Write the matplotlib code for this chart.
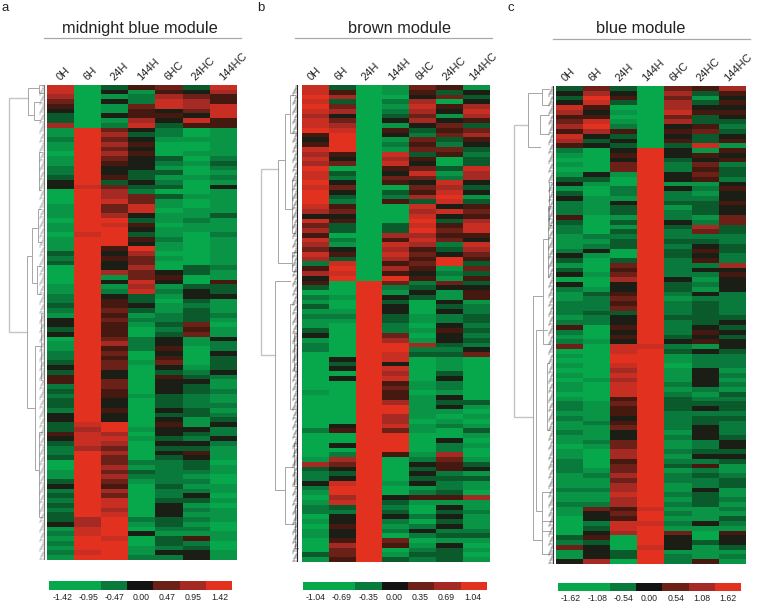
import numpy as np
import matplotlib
matplotlib.use("Agg")
import matplotlib.pyplot as plt
from matplotlib.colors import ListedColormap

plt.rcParams['font.family'] = ['Liberation Sans', 'DejaVu Sans']

W, H = 760, 604

conditions = ['0H', '6H', '24H', '144H', '6HC', '24HC', '144HC']

# 0 = full green, 4 = black, 9 = full red; one 7-digit token per row
midnight_rows = """
8035638 8041547 7012765 6042875 5016878 4015468 3045548 3017485 7028355
1964201 1973201 2964111 1975001 1964001 0975011 1964302 1954213 2944102
2943301 3953112 4934201 4863304 0972001 0976311
0986101 1968101 1968011 1974113 0993121 1985011 1994111 0893102 1995201 1994101
1959101 3947001 2956101 3946001 0947032 0976431 0916501 0948405 1917133 1928243
2943144 2953031 3954121 2963131 1951232 4962231 4951360 3950251 4950361 0962414
1972412 1952502 2960404 2950503 3961603 4960413 3940324 5940532 5960441 2960431
3950432 2951321 3940321 3940322 2950431 4940332 4940413 3890514 3791442 5870432
4881324 3870442 2760331 2970451 3960341 0962230 0971231 1963221 1972210 3961220
4950311 2970221 3960240 2980331 3980410 2970421 3980411 3792321 4791310 1890220
2894111 1980351 2990320 1991230 2891441 1992241
"""

brown_rows = """
8301651 8501534 9700463 8302704 9601857 8702748 7403617 8604745 8701463 9805356
5904267 4901635 5902524 8901663 7508352 8407503 7608403 9005638 8304817 8206627
9405484 8600673 9403584 9302791
9205383 8500845 7600786 4400845 8500937 6303858 7303968 5007755 8205864 7108728
6407537 8508646 7307595 2805693 5907516 7805423 4909515
5096263 3092344 0091415 2194315 1093041 3094032 1194042 2293123 1193123 1092042
3092153 4096042 1097143 2099732 2099224 0098336 0498010 0394010 0498010 0097030
0498040 0095120 0096120 1095010 0095140
0097133 0099141 0099110 0097101 0097010 0498121 2596103 0099001 0099040 0499021
0099020 0295170 1790261 7690453 3490354 2390421 2490333 4891421 2990121 1990230
0794557 1893111 2392041 2293032 0494241 1492031 0591241 1492422 1490233 0596011
0795140 0690231 3691330 1593231
"""

blue_rows = """
3630657 4740735 3950614 4830735 8500744 7410855 5500634 6810733 7920452 5750563
8430434 7340535 5430381
2049415 1059454 0049345 1069262 0069253 1419463 3309452 4109114 1029425 3029214
4119224
2149335 2139134 2139234 5019216 3039426 2019373 2039263 1229222 1139332 1239243
2409353 4109342 3039252 1069227 3059244 4169225 0079414 4049324 2149314 1359242
1269122 2259232 2269232 2339232 1249333 2249234 5059243 2049254 1059343 2149454
6088214 0089343 1099122 0099122 1089022 0079141 1089142 0179141 1089242 1089121
0089213 1059322
2169333 2159343 1159222 2149233 1259232 1169242 2149142 1149243 1269124 0169124
1079233 1079144 2059223 2069351 2169121 1279232 1169223 1179123 2279141 1189231
1179132 2279231 1658112 1469211 0459113 0288242 0389111 0479605 3509404 2309434
6408413 1439111 1439212 4709251
"""

# green to black to red, ten steps
level_colors = ['#07A84B', '#0A9446', '#0A7A3C', '#0B5A2C', '#1A1E14',
                '#45190F', '#6C2118', '#A52A24', '#C82E22', '#E3311F']
bar_colors = ['#07A84B', '#07A84B', '#0A7A3C', '#131313', '#6C2118', '#A52A24', '#E3311F']

# merges: (row a, height a, row b, height b, merge height)
midnight_tree = [(2.7, 19, 52, 20, 38), (0.6, 8, 6.3, 13, 19), (3.6, 7, 7.4, 7, 13),
                 (0, 4, 1.6, 4, 8), (36, 15, 68, 12, 20), (30, 9, 41.7, 10, 15),
                 (26, 6, 33, 6, 9), (38, 6, 44, 6, 10), (55, 6, 81, 8, 12),
                 (48, 5, 62, 5, 6), (73, 5, 91, 5, 8), (14, 5, 22, 6, 8)]
brown_tree = [(17.6, 24, 56.6, 27, 41), (15.7, 17, 37.3, 10, 24), (6, 12, 26, 10, 17),
              (2, 7, 10, 6, 12), (20, 6, 31, 7, 10), (35, 5, 39, 5, 10),
              (41, 12, 85, 17, 27), (46, 8, 68, 6, 12), (80, 8, 92, 7, 17),
              (75, 5, 84, 5, 8), (88, 5, 97, 4, 7), (52, 5, 60, 5, 8)]
blue_tree = [(8.2, 28, 69.2, 23, 42), (1.5, 14, 12.7, 16, 28), (0.6, 7, 4, 7, 14),
             (6, 8, 10, 8, 16), (44, 13, 95, 14, 23), (32, 8, 54, 6, 13),
             (51, 9, 89, 14, 20), (58, 7, 72, 6, 9), (85, 6, 93, 6, 14),
             (91, 4, 98, 4, 14), (25, 6, 40, 7, 8), (20, 5, 29, 5, 7)]

panels = [
    dict(title='midnight blue module', letter='a', rows=midnight_rows, tree=midnight_tree,
         scale=[-1.42, -0.95, -0.47, 0.00, 0.47, 0.95, 1.42],
         heat=(47, 85, 237, 560), bar=(49.5, 581, 232.5, 590), rule=(44, 241, 38),
         title_x=140, letter_x=1, gap=3, comb_color='#777777', label_dx=1),
    dict(title='brown module', letter='b', rows=brown_rows, tree=brown_tree,
         scale=[-1.04, -0.69, -0.35, 0.00, 0.35, 0.69, 1.04],
         heat=(302, 85, 490, 562), bar=(302.7, 581.5, 485.7, 590), rule=(295, 492, 38),
         title_x=399, letter_x=257, gap=5, comb_color='#222222', label_dx=-2),
    dict(title='blue module', letter='c', rows=blue_rows, tree=blue_tree,
         scale=[-1.62, -1.08, -0.54, 0.00, 0.54, 1.08, 1.62],
         heat=(556, 86, 746, 564), bar=(558, 582.5, 741, 591), rule=(553, 750, 39),
         title_x=641, letter_x=507, gap=3, comb_color='#333333', label_dx=-3),
]

cmap = ListedColormap(level_colors)


def px_axes(fig, left, top, right, bottom):
    return fig.add_axes([left / W, 1 - bottom / H, (right - left) / W, (bottom - top) / H])


def draw_tree(ax, tree, n_rows, comb_color, gap):
    # coarse branches
    for a, ha, b, hb, h in tree:
        color = '#c4c4c4' if h >= 30 else '#a6a6a6'
        lw = 1.0 if h >= 30 else 0.7
        ax.plot([ha, h, h, hb], [a, a, b, b], color=color, lw=lw, solid_joinstyle='miter')
    # fine comb of leaves beside the heatmap
    for i in range(2 * n_rows):
        y = i / 2 + 0.25
        reach = gap + 1.5 + i % 4
        ax.plot([gap, reach], [y, y], color=comb_color, lw=0.3)
        ax.plot([reach, reach], [y, y + 0.5], color=comb_color, lw=0.3)
    ax.plot([gap + 0.4, gap + 0.4], [0, n_rows], color=comb_color, lw=0.8)


fig = plt.figure(figsize=(W / 100, H / 100), dpi=100)

for p in panels:
    levels = np.array([[int(c) for c in tok] for tok in p['rows'].split()])
    n_rows = levels.shape[0]
    left, top, right, bottom = p['heat']

    ax = px_axes(fig, left, top, right, bottom)
    ax.imshow(levels, cmap=cmap, vmin=0, vmax=9, aspect='auto', interpolation='nearest')
    ax.axis('off')

    col_w = (right - left) / 7
    for i, name in enumerate(conditions):
        x = left + (i + 0.5) * col_w + p['label_dx']
        fig.text(x / W, 1 - (top - 3) / H, name, fontsize=8.0, color='#222222',
                 rotation=45, rotation_mode='anchor', ha='left', va='bottom')

    # dendrogram, heights measured leftwards from the heatmap edge
    tree_ax = px_axes(fig, 0 if left < 60 else left - 48, top, left, bottom)
    span = left - (0 if left < 60 else left - 48)
    tree_ax.set_xlim(span, 0)
    tree_ax.set_ylim(n_rows, 0)
    tree_ax.axis('off')
    draw_tree(tree_ax, p['tree'], n_rows, p['comb_color'], p['gap'])

    bar_ax = px_axes(fig, *p['bar'])
    bar_ax.imshow([range(7)], cmap=ListedColormap(bar_colors), aspect='auto', interpolation='nearest')
    bar_ax.set_yticks([])
    bar_ax.set_xticks(range(7), [f'{v:.2f}' for v in p['scale']], fontsize=6.3, color='#222222')
    bar_ax.tick_params(axis='x', length=0, pad=2.5)
    for s in bar_ax.spines.values():
        s.set_visible(False)

    fig.text(p['title_x'] / W, 1 - 33 / H, p['title'], fontsize=11.8, color='#222222', ha='center', va='baseline')
    x0, x1, y = p['rule']
    fig.add_artist(plt.Line2D([x0 / W, x1 / W], [1 - y / H] * 2, color='#a8a8a8', lw=0.9))
    fig.text(p['letter_x'] / W, 1 - 11 / H, p['letter'], fontsize=9.5, color='#222222', ha='left', va='baseline')

fig.savefig('out.png', dpi=100)
plt.close(fig)
